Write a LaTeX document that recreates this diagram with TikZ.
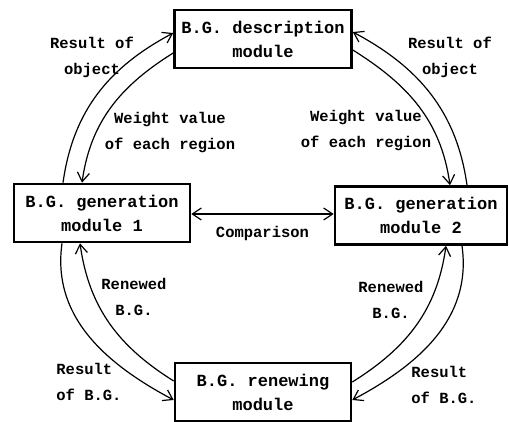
\documentclass[tikz,border=0pt]{standalone}
\usepackage{fontspec}
\newfontfamily\tw{Liberation Mono}
\usetikzlibrary{arrows.meta,calc}
\begin{document}
\begin{tikzpicture}[x=1pt,y=-1pt,
  module/.style={draw,line width=2.6pt,minimum height=58pt,inner sep=0pt,align=center,
    font=\tw\bfseries\fontsize{17}{24}\selectfont},
  lab/.style={align=center,inner sep=0pt,font=\tw\bfseries\fontsize{15.5}{26}\selectfont},
  flow/.style={line width=1.2pt,-{Straight Barb[length=9pt,width=12pt,line width=1.2pt]}},
  both/.style={line width=1.2pt,{Straight Barb[length=9pt,width=12pt,line width=1.2pt]}-{Straight Barb[length=9pt,width=12pt,line width=1.2pt]}}]
\useasboundingbox (0,0) rectangle (509,422);
\node[module,minimum width=177pt] (top) at (263,39) {B.G. description\\module};
\node[module,minimum width=176pt] (left) at (102,213) {B.G. generation\\module 1};
\node[module,minimum width=172pt] (right) at (421,215.5) {B.G. generation\\module 2};
\node[module,minimum width=176pt] (bot) at (263,392) {B.G. renewing\\module};
% top-left pair
\draw[flow] ($(left.north)+(-39,0)$) to[out=82,in=208] ($(top.west)+(0,-6)$);
\draw[flow] ($(top.west)+(0,14)$) to[out=212,in=82] ($(left.north)+(-20,0)$);
% top-right pair
\draw[flow] ($(right.north)+(46,0)$) to[out=98,in=332] ($(top.east)+(0,-7)$);
\draw[flow] ($(top.east)+(0,11)$) to[out=-32,in=98] ($(right.north)+(29,0)$);
% bottom-left pair
\draw[flow] ($(left.south)+(-40,0)$) to[out=262,in=152] ($(bot.west)+(0,8)$);
\draw[flow] ($(bot.west)+(0,-11)$) to[out=148,in=278] ($(left.south)+(-22,0)$);
% bottom-right pair
\draw[flow] ($(right.south)+(41,0)$) to[out=278,in=28] ($(bot.east)+(0,8)$);
\draw[flow] ($(bot.east)+(0,-10)$) to[out=32,in=262] ($(right.south)+(25,0)$);
% comparison
\draw[both] (left.east |- 0,214) -- (right.west |- 0,214) node[midway,below=12pt,lab] (cmp) {Comparison};
% labels
\node[lab] (l1) at (92,57) {Result of\\object};
\node[lab] (l2) at (450,57) {Result of\\object};
\node[lab] (l3) at (170,133) {Weight value\\of each region};
\node[lab] (l4) at (366,131) {Weight value\\of each region};
\node[lab] (l5) at (134,297) {Renewed\\B.G.};
\node[lab] (l6) at (391,300) {Renewed\\B.G.};
\node[lab,align=left] (l7) at (89,382) {Result\\of B.G.};
\node[lab,align=left] (l8) at (444,385) {Result\\of B.G.};
\end{tikzpicture}
\end{document}
